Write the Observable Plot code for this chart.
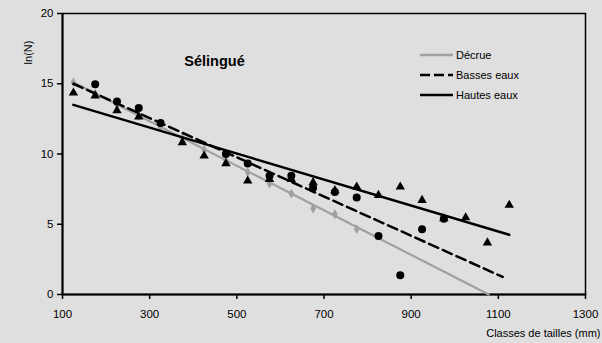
<!DOCTYPE html>
<html>
<head>
<meta charset="utf-8">
<script src="https://cdn.jsdelivr.net/npm/d3@7"></script>
<script src="https://cdn.jsdelivr.net/npm/@observablehq/plot@0.6"></script>
<style>
  html, body { margin: 0; padding: 0; background: #dfdfdf; }
  #wrap { position: relative; width: 602px; height: 343px; font-family: "Liberation Sans", Arial, sans-serif; }
  #legend { position: absolute; left: 420px; top: 45px; font-size: 11px; color: #000; }
  #legend .row { display: flex; align-items: center; height: 20px; }
  #legend svg { margin-right: 3px; }
</style>
</head>
<body>
<div id="wrap"></div>
<script>
// ---- data ----
const title = "Sélingué";
const seriesNames = ["Décrue", "Basses eaux", "Hautes eaux"];
const xTicks = [100, 300, 500, 700, 900, 1100, 1300];
const yTicks = [0, 5, 10, 15, 20];

// Décrue (gray diamonds)
const decrueX = [125, 175, 225, 275, 325, 375, 425, 475, 525, 575, 625, 675, 725, 775];
const decrueY = [15.1, 14.3, 13.5, 12.7, 11.9, 11.1, 10.3, 9.5, 8.7, 7.9, 7.18, 6.12, 5.71, 4.65];

// Basses eaux (black circles)
const bassesX = [175, 225, 275, 325, 475, 525, 575, 625, 675, 725, 775, 825, 875, 925, 975];
const bassesY = [14.97, 13.74, 13.27, 12.2, 10.0, 9.32, 8.45, 8.45, 7.6, 7.3, 6.9, 4.17, 1.37, 4.65, 5.4];

// Hautes eaux (black triangles)
const hautesX = [125, 175, 225, 275, 375, 425, 475, 525, 575, 625, 675, 725, 775, 825, 875, 925, 975, 1025, 1075, 1125];
const hautesY = [14.35, 14.15, 13.1, 12.65, 10.82, 9.87, 9.32, 8.09, 8.2, 8.2, 7.97, 7.4, 7.66, 7.07, 7.66, 6.71, 5.4, 5.47, 3.69, 6.36];

// Trend lines (end points)
const decrueTrendX = [125, 1078];
const decrueTrendY = [15.1, 0];
const bassesTrendX = [125, 1110];
const bassesTrendY = [15.0, 1.25];
const hautesTrendX = [125, 1125];
const hautesTrendY = [13.5, 4.25];

// ---- build ----
const pts = (xs, ys) => xs.map((x, i) => ({x, y: ys[i]}));
const decrue = pts(decrueX, decrueY);
const basses = pts(bassesX, bassesY);
const hautes = pts(hautesX, hautesY);
const decrueT = pts(decrueTrendX, decrueTrendY);
const bassesT = pts(bassesTrendX, bassesTrendY);
const hautesT = pts(hautesTrendX, hautesTrendY);

const grayCol = "#a0a0a0";

const chart = Plot.plot({
  width: 602,
  height: 343,
  marginLeft: 62,
  marginRight: 17,
  marginTop: 13,
  marginBottom: 49,
  style: { background: "#dfdfdf", fontFamily: "Liberation Sans, Arial, sans-serif", fontSize: "12px", color: "#000", overflow: "visible" },
  x: { domain: [100, 1300] },
  y: { domain: [0, 20] },
  marks: [
    Plot.frame({ stroke: "#000", strokeWidth: 1.5 }),
    Plot.axisX({ ticks: xTicks, tickFormat: d => String(d), tickSize: 5, tickPadding: 10, fontSize: 11.5, label: null, strokeWidth: 1.5 }),
    Plot.axisY({ ticks: yTicks, tickFormat: d => String(d), tickSize: 5, tickPadding: 4, fontSize: 11.5, label: null, strokeWidth: 1.5 }),
    Plot.ruleY([0], { stroke: "#000", strokeWidth: 2 }),
    Plot.ruleX([100], { stroke: "#000", strokeWidth: 2 }),
    Plot.line(decrueT, { x: "x", y: "y", stroke: grayCol, strokeWidth: 2.2 }),
    Plot.dot(decrue, { x: "x", y: "y", symbol: "diamond", r: 3, fill: grayCol, stroke: "none" }),
    Plot.line(bassesT, { x: "x", y: "y", stroke: "#000", strokeWidth: 2.5, strokeDasharray: "10,5" }),
    Plot.line(hautesT, { x: "x", y: "y", stroke: "#000", strokeWidth: 2.5 }),
    Plot.dot(basses, { x: "x", y: "y", symbol: "circle", r: 4, fill: "#000", stroke: "none" }),
    Plot.dot(hautes, { x: "x", y: "y", symbol: "triangle", r: 3.5, fill: "#000", stroke: "none" }),
    Plot.text([title], { frameAnchor: "top-left", dx: 152, dy: 42, text: d => d, fontSize: 14.5, fontWeight: "bold", textAnchor: "middle" }),
    Plot.text(["ln(N)"], { frameAnchor: "top-left", dx: -38, dy: 39, text: d => d, fontSize: 11, rotate: -90, textAnchor: "middle" }),
    Plot.text(["Classes de tailles (mm)"], { frameAnchor: "bottom-right", dx: 15, dy: 42, text: d => d, fontSize: 11, textAnchor: "end" })
  ]
});
document.getElementById("wrap").appendChild(chart);

// legend overlay
const legend = document.createElement("div");
legend.id = "legend";
const styles = [
  { stroke: grayCol, dash: null },
  { stroke: "#000", dash: "10,4" },
  { stroke: "#000", dash: null }
];
seriesNames.forEach((name, i) => {
  const row = document.createElement("div");
  row.className = "row";
  const s = styles[i];
  row.innerHTML = `<svg width="33" height="6"><line x1="0" x2="33" y1="3" y2="3" stroke="${s.stroke}" stroke-width="2.5" ${s.dash ? `stroke-dasharray="${s.dash}"` : ""}/></svg><span>${name}</span>`;
  legend.appendChild(row);
});
document.getElementById("wrap").appendChild(legend);
</script>
</body>
</html>
